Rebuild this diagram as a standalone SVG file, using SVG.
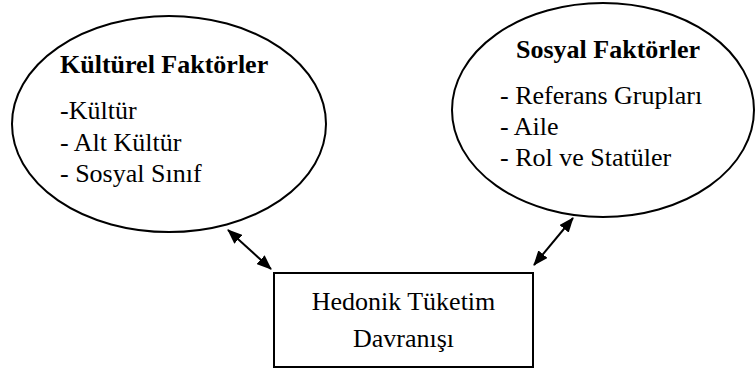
<svg xmlns="http://www.w3.org/2000/svg" width="755" height="374" viewBox="0 0 755 374">
<style>
.shape{fill:#fff;stroke:#000;stroke-width:2}
.t{font-family:"Liberation Serif","Times New Roman",Times,serif;font-size:26px;fill:#000}
.b{font-weight:bold}
.c{stroke:#000;stroke-width:2;fill:none}
</style>
<defs>
<marker id="ah" viewBox="0 0 15 12" refX="14" refY="6" markerWidth="15" markerHeight="12" markerUnits="userSpaceOnUse" orient="auto-start-reverse">
<path d="M0,0 L15,6 L0,12 z" fill="#000"/>
</marker>
</defs>
<rect width="755" height="374" fill="#fff"/>
<g id="kulturel">
<ellipse class="shape" cx="169" cy="124" rx="157" ry="108"/>
<text class="t b" x="60" y="73">Kültürel Faktörler</text>
<text class="t" x="60" y="119">-Kültür</text>
<text class="t" x="60" y="151">- Alt Kültür</text>
<text class="t" x="60" y="182">- Sosyal Sınıf</text>
</g>
<g id="sosyal">
<ellipse class="shape" cx="603" cy="110" rx="151" ry="107"/>
<text class="t b" x="516" y="58">Sosyal Faktörler</text>
<text class="t" x="500" y="104">- Referans Grupları</text>
<text class="t" x="500" y="135">- Aile</text>
<text class="t" x="500" y="166">- Rol ve Statüler</text>
</g>
<g id="hedonik">
<rect class="shape" x="274" y="273" width="259" height="94"/>
<text class="t" x="403.5" y="310" text-anchor="middle">Hedonik Tüketim</text>
<text class="t" x="403.5" y="347" text-anchor="middle">Davranışı</text>
</g>
<g id="connectors">
<line class="c" x1="228" y1="230" x2="271" y2="269" marker-start="url(#ah)" marker-end="url(#ah)"/>
<line class="c" x1="573" y1="218" x2="534" y2="265" marker-start="url(#ah)" marker-end="url(#ah)"/>
</g>
</svg>
